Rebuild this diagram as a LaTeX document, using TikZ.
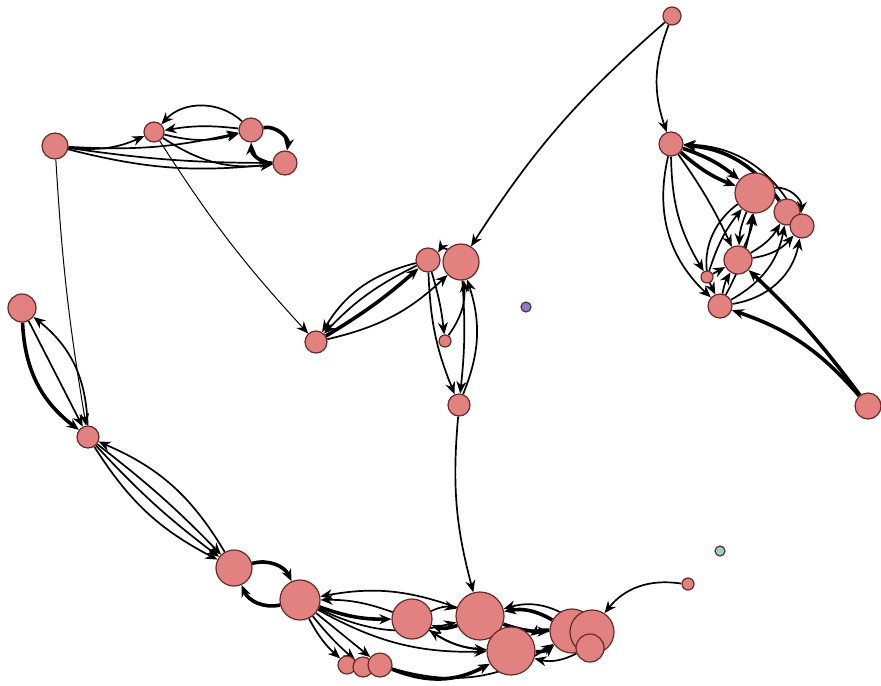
\documentclass[tikz,border=0pt]{standalone}
\usetikzlibrary{arrows.meta}

\definecolor{nodefill}{RGB}{226,130,128}
\definecolor{nodeline}{RGB}{105,40,40}
\definecolor{lonefill}{RGB}{132,130,204}
\definecolor{seedfill}{RGB}{150,212,190}

\pgfdeclarelayer{edges}
\pgfsetlayers{edges,main}

\begin{document}
\begin{tikzpicture}[
    x=0.5pt,
    y=-0.5pt,
    vertex/.style={
        circle,
        draw=nodeline,
        fill=nodefill,
        line width=0.6pt,
        inner sep=0pt
    },
    link/.style={
        draw=black,
        line width=0.85pt,
        -{Stealth[length=6pt,width=5pt]}
    },
    heavy/.style={
        link,
        line width=1.8pt
    },
    slim/.style={
        link,
        line width=0.5pt
    }
]

\useasboundingbox (0,0) rectangle (881,685);

% ============================================================
% Vertices
% ============================================================

\node[vertex, minimum size=9pt]  (top) at (672,16)  {};

% top-left group
\node[vertex, minimum size=13pt] (tla) at (55,146)  {};
\node[vertex, minimum size=10pt] (tlb) at (154,132) {};
\node[vertex, minimum size=12pt] (tlc) at (251,130) {};
\node[vertex, minimum size=12pt] (tld) at (285,163) {};

% left chain
\node[vertex, minimum size=14pt] (la) at (22,308)  {};
\node[vertex, minimum size=11pt] (lb) at (88,437)  {};

% centre group
\node[vertex, minimum size=12pt] (ca) at (428,260) {};
\node[vertex, minimum size=18pt] (cb) at (461,262) {};
\node[vertex, minimum size=11pt] (cc) at (316,342) {};
\node[vertex, minimum size=6pt]  (cd) at (445,341) {};
\node[vertex, minimum size=11pt] (ce) at (459,405) {};

% top-right group
\node[vertex, minimum size=12pt] (ra) at (671,144) {};
\node[vertex, minimum size=20pt] (rb) at (755,193) {};
\node[vertex, minimum size=13pt] (rc) at (787,212) {};
\node[vertex, minimum size=12pt] (rd) at (802,226) {};
\node[vertex, minimum size=14pt] (re) at (738,260) {};
\node[vertex, minimum size=6pt]  (rf) at (707,277) {};
\node[vertex, minimum size=12pt] (rg) at (720,306) {};
\node[vertex, minimum size=13pt] (rh) at (868,406) {};

% lone vertices
\node[vertex, fill=lonefill, minimum size=5pt] (lone) at (526,307) {};
\node[vertex, fill=seedfill, minimum size=5pt] (seed) at (720,551) {};
\node[vertex, minimum size=6pt] (pa) at (688,584) {};

% bottom group
\node[vertex, minimum size=18pt] (ba) at (234,568) {};
\node[vertex, minimum size=20pt] (bb) at (300,600) {};
\node[vertex, minimum size=20pt] (bc) at (412,619) {};
\node[vertex, minimum size=24pt] (bd) at (480,616) {};
\node[vertex, minimum size=24pt] (be) at (511,651) {};
\node[vertex, minimum size=22pt] (bf) at (572,631) {};
\node[vertex, minimum size=22pt] (bg) at (592,632) {};
\node[vertex, minimum size=14pt] (bh) at (590,648) {};
\node[vertex, minimum size=9pt]  (bi) at (347,665) {};
\node[vertex, minimum size=10pt] (bj) at (363,667) {};
\node[vertex, minimum size=12pt] (bk) at (380,665) {};

\begin{pgfonlayer}{edges}

% ============================================================
% Top-left group
% ============================================================

\draw[link] (tla) to[bend right=15] (tlb);
\draw[link] (tla) to[bend right=8] (tlc);
\draw[link] (tla) to[bend right=10] (tld);
\draw[link] (tla) to[bend right=4] (tld);
\draw[link] (tlc) to[bend right=45] (tlb);
\draw[link] (tlc) to[bend right=8] (tlb);
\draw[link] (tlb) to[bend right=15] (tlc);
\draw[link] (tlb) to[bend right=20] (tld);
\draw[heavy] (tlc) to[bend left=55] (tld);
\draw[heavy] (tld) to[bend left=45] (tlc);
\draw[slim] (tlb) to[bend right=5] (cc);
\draw[slim] (tla) to[bend right=3] (lb);

% ============================================================
% Left chain
% ============================================================

\draw[heavy] (la) to[bend right=25] (lb);
\draw[link] (la) to (lb);
\draw[link] (lb) to[bend right=25] (la);
\draw[link] (lb) to[bend right=15] (ba);
\draw[link] (lb) to[bend right=5] (ba);
\draw[link] (lb) to[bend left=4] (ba);
\draw[link] (ba) to[bend right=18] (lb);

% ============================================================
% Centre group
% ============================================================

\draw[link] (top) to[bend right=8] (cb);
\draw[link] (top) to[bend right=20] (ra);
\draw[link] (ca) to[bend right=10] (cc);
\draw[link] (ca) to[bend right=22] (cc);
\draw[heavy] (cc) to[bend right=5] (ca);
\draw[link] (cc) to[bend right=15] (cb);
\draw[link] (cb) to[bend right=40] (ca);
\draw[link] (ca) to[bend left=5] (cd);
\draw[link] (ca) to[bend right=10] (ce);
\draw[link] (cb) to[bend left=5] (ce);
\draw[link] (ce) to[bend right=20] (cb);
\draw[link] (cd) to[bend right=20] (cb);
\draw[link] (ce) to[bend right=10] (bd);
\draw[link] (pa) to[bend right=30] (bg);

% ============================================================
% Top-right group
% ============================================================

\draw[heavy] (ra) to[bend left=10] (rb);
\draw[heavy] (ra) to[bend right=10] (rb);
\draw[heavy] (rc) to[bend right=25] (ra);
\draw[link] (rd) to[bend right=30] (ra);
\draw[link] (ra) to[bend right=30] (rg);
\draw[link] (ra) to[bend right=15] (rf);
\draw[link] (ra) to[bend left=5] (re);
\draw[link] (re) to[bend right=10] (rb);
\draw[link] (re) to[bend right=15] (rc);
\draw[link] (re) to[bend right=20] (rd);
\draw[link] (rg) to[bend right=10] (rb);
\draw[link] (rg) to[bend right=25] (rc);
\draw[link] (rg) to[bend right=35] (rd);
\draw[link] (rf) to[bend left=10] (rb);
\draw[link] (rb) to[bend right=10] (re);
\draw[link] (rb) to[bend right=40] (rg);
\draw[link] (rb) to[bend left=50] (rd);
\draw[link] (rg) to[bend left=10] (re);
\draw[link] (rf) to (re);
\draw[heavy] (rh) to[bend right=15] (rg);
\draw[heavy] (rh) to[bend right=5] (re);

% ============================================================
% Bottom group
% ============================================================

\draw[heavy] (ba) to[bend left=40] (bb);
\draw[heavy] (bb) to[bend left=40] (ba);
\draw[link] (bd) to[bend right=15] (bb);
\draw[link] (bc) to[bend right=10] (bb);
\draw[heavy] (bb) to[bend right=10] (bc);
\draw[link] (bb) to[bend right=20] (bd);
\draw[link] (bb) to[bend right=15] (be);
\draw[link] (bb) to[bend right=10] (bi);
\draw[link] (bb) to[bend right=5] (bj);
\draw[link] (bb) to (bk);
\draw[heavy] (bk) to[bend right=25] (be);
\draw[link] (bk) to[bend right=25] (bf);
\draw[link] (bc) to[bend left=20] (bd);
\draw[heavy] (bd) to[bend left=20] (bc);
\draw[link] (bc) to[bend right=15] (be);
\draw[link] (be) to[bend left=15] (bc);
\draw[heavy] (bf) to[bend right=20] (bd);
\draw[heavy] (bd) to[bend right=10] (bf);
\draw[link] (bg) to[bend right=25] (bd);
\draw[heavy] (be) to[bend right=20] (bf);
\draw[heavy] (bf) to[bend right=20] (be);
\draw[link] (bh) to[bend left=20] (be);

\end{pgfonlayer}

\end{tikzpicture}
\end{document}
